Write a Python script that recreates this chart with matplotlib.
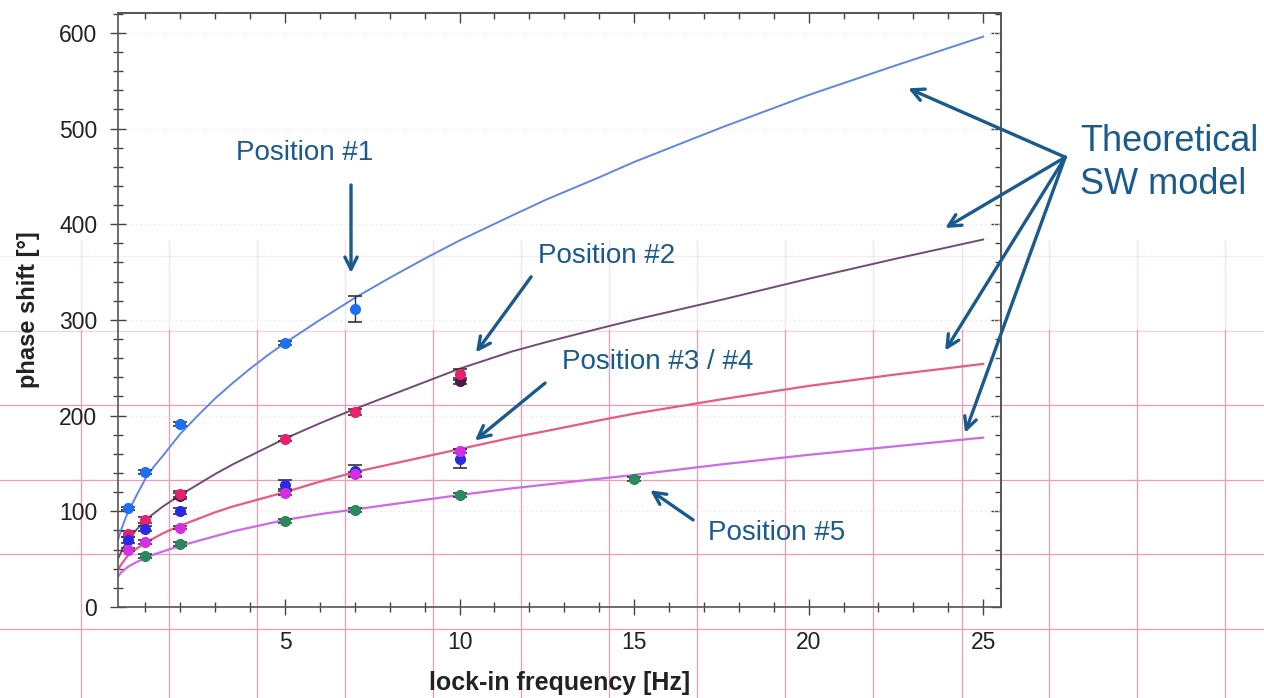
import matplotlib
matplotlib.use("Agg")
import matplotlib.pyplot as plt
from matplotlib.lines import Line2D
from matplotlib.ticker import MultipleLocator

plt.rcParams['font.family'] = ['Liberation Sans', 'DejaVu Sans']

# theoretical SW model curves
model_f = [0.22, 0.3, 0.4, 0.5, 0.75, 1, 1.25, 1.5, 2, 2.5, 3, 3.5, 4, 4.5, 5, 6, 7, 8, 9, 10,
           11.5, 12.5, 14, 15, 17.5, 20, 22.5, 25]
model_pos1 = [71, 80, 90, 99, 117, 134, 147, 158, 181, 200, 218, 234, 249, 263, 276, 300, 323, 344, 364, 383,
              409, 426, 449, 465, 501, 535, 566, 596]
model_pos2 = [51, 57, 64, 70, 81, 91, 98, 105, 117, 128, 139, 149, 158, 167, 176, 192, 207, 221, 235, 249,
              267, 277, 291, 300, 321, 343, 364, 384]
model_pos34 = [39, 44, 49, 54, 61, 67, 72, 77, 85, 92, 99, 105, 110, 115, 120, 131, 141, 149, 157, 165,
               177, 184, 195, 202, 217, 231, 243, 254]
model_pos5 = [32, 36, 39, 42, 47, 51, 55, 58, 64, 69, 74, 79, 83, 87, 91, 97, 102, 107, 112, 117,
              124, 128, 134, 138, 149, 159, 168, 177]

# measured points
f1 = [0.5, 1, 2, 5, 7]
pos1 = [103, 141, 191, 276, 311]
err1 = [2, 2, 2, 2, 13.5]

f2 = [0.5, 1, 2, 5, 7, 10]
pos2 = [76, 91, 118, 176, 204, 243]
err2 = [3, 3, 3, 3, 3, 6]

f2b = [2, 10]
pos2b = [116, 236]
err2b = [3, 3]

f3 = [0.5, 1, 2, 5, 7, 10]
pos3 = [70, 82, 100, 128, 142, 155]
err3 = [3, 3, 3, 5, 6, 10]

f4 = [0.5, 1, 2, 5, 7, 10]
pos4 = [60, 68, 83, 119, 139, 163]
err4 = [2, 2, 2, 2, 2, 2]

f5 = [1, 2, 5, 7, 10, 15]
pos5 = [53, 66, 90, 101, 117, 134]
err5 = [2, 2, 2, 2, 2, 2]

W, H = 1264, 698
fig = plt.figure(figsize=(W / 100, H / 100), dpi=100)

# pink background grid of the slide
grid_x = [81, 169, 257, 345, 433, 521, 609, 697, 785, 873, 962, 1049, 1137, 1225]
grid_y = [256, 331, 405, 480, 554, 629]
pink = '#f09ab4'
for gx in grid_x:
    fig.add_artist(Line2D([gx / W, gx / W], [0, 1 - 330 / H], color=pink, lw=0.9, zorder=-2))
    fig.add_artist(Line2D([gx / W, gx / W], [1 - 330 / H, 1 - 240 / H], color=pink, lw=0.9,
                          alpha=0.3, zorder=-2))
for gy in grid_y:
    a = 1.0 if gy > 380 else (0.45 if gy > 300 else 0.2)
    fig.add_artist(Line2D([0, 1], [1 - gy / H, 1 - gy / H], color=pink, lw=0.9, alpha=a, zorder=-2))

ax = fig.add_axes([118 / W, 1 - 607 / H, (1001 - 118) / W, (607 - 13) / H])
ax.set_facecolor('none')

ax.plot(model_f, model_pos1, color='#5f86e3', lw=1.4, zorder=2)
ax.plot(model_f, model_pos2, color='#6e4c74', lw=1.4, zorder=2)
ax.plot(model_f, model_pos34, color='#e85a84', lw=1.6, zorder=2)
ax.plot(model_f, model_pos5, color='#cc6ae8', lw=1.6, zorder=2)

ekw = dict(fmt='o', ms=7, ecolor='#333333', elinewidth=1.0, capsize=5, capthick=1.2, zorder=3)
ax.errorbar(f1, pos1, yerr=err1, color='#1f6ff2', **ekw)
ax.errorbar(f2b, pos2b, yerr=err2b, color='#4a1a48', **ekw)
ax.errorbar(f2, pos2, yerr=err2, color='#e8206e', **ekw)
ax.errorbar(f3, pos3, yerr=err3, color='#2a2ae6', **ekw)
ax.errorbar(f4, pos4, yerr=err4, color='#d42fe0', **ekw)
ax.errorbar(f5, pos5, yerr=err5, color='#2a8a5c', **ekw)

ax.set_xlim(0.215, 25.51)
ax.set_ylim(0, 620.7)
ax.xaxis.set_major_locator(MultipleLocator(5))
ax.xaxis.set_minor_locator(MultipleLocator(1))
ax.yaxis.set_major_locator(MultipleLocator(100))
ax.yaxis.set_minor_locator(MultipleLocator(20))

ax.tick_params(which='both', direction='inout', top=False, right=False,
               color='#444444', width=1.0, labelsize=16.5, labelcolor='#222222')
ax.tick_params(which='major', length=12, pad=9)
ax.tick_params(which='minor', length=6.5)
ax.tick_params(axis='x', which='major', pad=11)
for s in ax.spines.values():
    s.set_color('#555555')
    s.set_linewidth(1.2)

top = ax.secondary_xaxis('top')
top.xaxis.set_major_locator(MultipleLocator(5))
top.xaxis.set_minor_locator(MultipleLocator(1))
top.tick_params(which='both', direction='in', labeltop=False, color='#444444', width=1.0)
top.tick_params(which='major', length=7)
top.tick_params(which='minor', length=4.5)
right = ax.secondary_yaxis('right')
right.yaxis.set_major_locator(MultipleLocator(100))
right.yaxis.set_minor_locator(MultipleLocator(20))
right.tick_params(which='both', direction='in', labelright=False, color='#444444', width=1.0)
right.tick_params(which='major', length=7)
right.tick_params(which='minor', length=4.5)
for sec in (top, right):
    for s in sec.spines.values():
        s.set_color('#555555')
        s.set_linewidth(1.2)

# faint dotted horizontal gridlines inside the plot
ax.grid(True, axis='y', which='major', ls=(0, (1, 3)), color='#e2e2e2', lw=0.8)

ax.set_xlabel('lock-in frequency [Hz]', fontsize=18, fontweight='bold', color='#222222')
ax.set_ylabel('phase shift [°]', fontsize=17, fontweight='bold', color='#222222')
ax.xaxis.set_label_coords(0.5, -0.108)
ax.yaxis.set_label_coords(-0.088, 0.5)

# annotations
ann = '#1a5a8c'
akw = dict(arrowstyle='->', color=ann, lw=2.4, mutation_scale=22, shrinkA=0, shrinkB=0)
ax.text(5.57, 474, 'Position #1', fontsize=20, color=ann, ha='center', va='center')
ax.annotate('', xy=(6.89, 349), xytext=(6.89, 441), arrowprops=akw, annotation_clip=False)
ax.text(12.25, 367, 'Position #2', fontsize=20, color=ann, ha='left', va='center')
ax.annotate('', xy=(10.47, 266), xytext=(12.05, 345), arrowprops=akw, annotation_clip=False)
ax.text(12.94, 256, 'Position #3 / #4', fontsize=20, color=ann, ha='left', va='center')
ax.annotate('', xy=(10.44, 174), xytext=(12.45, 234), arrowprops=akw, annotation_clip=False)
ax.text(17.12, 77, 'Position #5', fontsize=20, color=ann, ha='left', va='center')
ax.annotate('', xy=(15.46, 122), xytext=(16.69, 91), arrowprops=akw, annotation_clip=False)

ax.text(27.78, 464, 'Theoretical\nSW model', fontsize=26, color=ann, ha='left', va='center',
        linespacing=1.3)
for tip in [(22.85, 542), (23.91, 396), (23.91, 268), (24.48, 182)]:
    ax.annotate('', xy=tip, xytext=(27.35, 470), arrowprops=akw, annotation_clip=False)

fig.savefig('out.png', dpi=100)
